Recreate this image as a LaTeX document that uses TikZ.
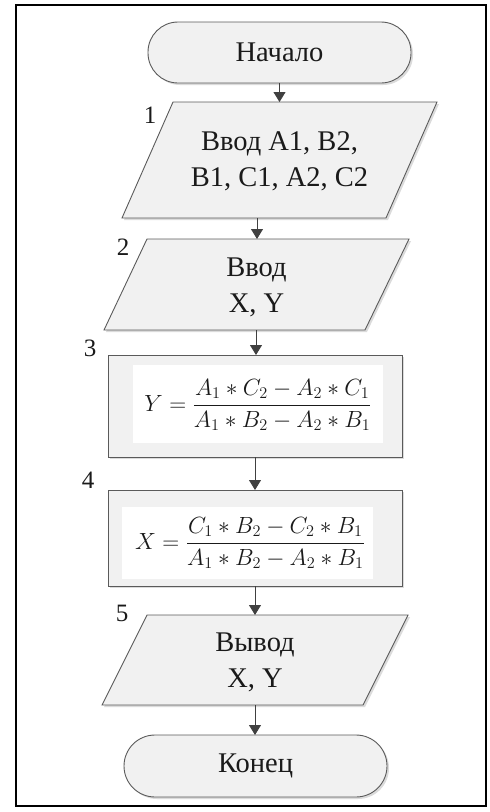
\documentclass[tikz,border=0pt]{standalone}
\usepackage{graphicx}
\usepackage{amsmath}
\usepackage{fontspec}
\setmainfont{Liberation Serif}
\usetikzlibrary{arrows.meta}
\definecolor{edge}{HTML}{5A5A5A}
\definecolor{shapefill}{HTML}{F1F1F1}
\definecolor{arrowc}{HTML}{404040}
\definecolor{txtc}{HTML}{1A1A1A}
\tikzset{
  shapeline/.style={draw=edge, line width=0.9pt, fill=shapefill},
  shadowfill/.style={fill=black!14, draw=none},
  txt/.style={align=center, text=txtc, font=\fontsize{28.5}{36}\selectfont, inner sep=0pt},
  numlabel/.style={text=txtc, font=\fontsize{25}{28}\selectfont, inner sep=0pt},
  formula/.style={fill=white, inner sep=0pt, text=txtc, font=\fontsize{20}{24}\selectfont},
  flow/.style={draw=arrowc, line width=0.9pt, -{Triangle[width=12pt,length=10pt]}}
}
\begin{document}
\begin{tikzpicture}[x=1pt,y=-1pt]
\useasboundingbox (0,0) rectangle (490,812);
% outer frame
\draw[black, line width=1.3pt] (16,5) rectangle (486,806);

% ---- start terminal
\fill[shadowfill, rounded corners=30pt] (150,24) rectangle (413,85);
\draw[shapeline, rounded corners=30pt] (148,22) rectangle (411,83);
\node[txt] (start) at (279.5,52.5) {Начало};
\coordinate (startb) at (279.5,83);

% ---- block 1 (input)
\fill[shadowfill] (175,104) -- (439,104) -- (388,220) -- (124,220) -- cycle;
\draw[shapeline] (173,102) -- (437,102) -- (386,218) -- (122,218) -- cycle;
\node[txt] (in1) at (279.5,161) {Ввод A1, B2,\\B1, C1, A2, C2};
\coordinate (in1t) at (279.5,102);
\coordinate (in1b) at (257,218);
\node[numlabel] (l1) at (150,115) {1};

% ---- block 2 (input)
\fill[shadowfill] (149,241) -- (411,241) -- (367,332) -- (106,332) -- cycle;
\draw[shapeline] (147,239) -- (409,239) -- (365,330) -- (104,330) -- cycle;
\node[txt] (in2) at (256.5,287) {Ввод\\X, Y};
\coordinate (in2t) at (257,239);
\coordinate (in2b) at (256,330);
\node[numlabel] (l2) at (123,247) {2};

% ---- block 3 (process)
\fill[shadowfill] (110,357) rectangle (404,459);
\draw[shapeline] (108,355) rectangle (402,457);
\fill[white] (133,365) rectangle (383,443);
\node[formula] (p3) at (258,405) {\scalebox{1.13}{$Y=\dfrac{A_1\ast C_2-A_2\ast C_1}{A_1\ast B_2-A_2\ast B_1}$}};
\coordinate (p3t) at (256,355);
\coordinate (p3b) at (255,457);
\node[numlabel] (l3) at (90,348) {3};

% ---- block 4 (process)
\fill[shadowfill] (110,492) rectangle (404,588);
\draw[shapeline] (108,490) rectangle (402,586);
\fill[white] (122,507) rectangle (373,579);
\node[formula] (p4) at (250,543) {\scalebox{1.13}{$X=\dfrac{C_1\ast B_2-C_2\ast B_1}{A_1\ast B_2-A_2\ast B_1}$}};
\coordinate (p4t) at (255,490);
\coordinate (p4b) at (255,586);
\node[numlabel] (l4) at (88,480) {4};

% ---- block 5 (output)
\fill[shadowfill] (149,617) -- (410,617) -- (365,707) -- (104,707) -- cycle;
\draw[shapeline] (147,615) -- (408,615) -- (363,705) -- (102,705) -- cycle;
\node[txt] (out5) at (255,662) {Вывод\\X, Y};
\coordinate (out5t) at (255,615);
\coordinate (out5b) at (255,705);
\node[numlabel] (l5) at (122,613) {5};

% ---- end terminal
\fill[shadowfill, rounded corners=31pt] (126,737) rectangle (389,799);
\draw[shapeline, rounded corners=31pt] (124,735) rectangle (387,797);
\node[txt] (finish) at (255.5,766) {Конец};
\coordinate (finisht) at (255,735);

% ---- connectors
\draw[flow] (startb) -- (in1t);
\draw[flow] (in1b) -- (in2t);
\draw[flow] (in2b) -- (p3t);
\draw[flow] (p3b) -- (p4t);
\draw[flow] (p4b) -- (out5t);
\draw[flow] (out5b) -- (finisht);
\end{tikzpicture}
\end{document}
